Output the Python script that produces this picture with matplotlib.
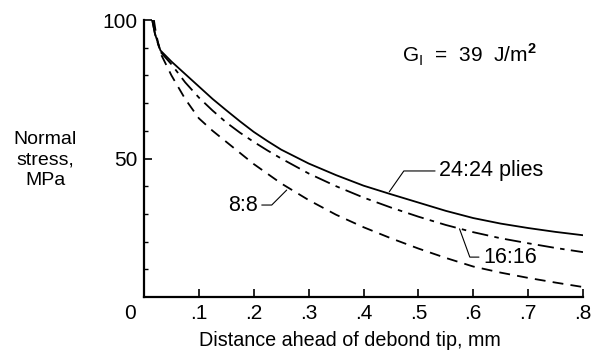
import matplotlib
matplotlib.use("Agg")
import matplotlib.pyplot as plt

plt.rcParams["font.family"] = ["Liberation Sans", "DejaVu Sans"]
plt.rcParams["mathtext.fontset"] = "custom"
plt.rcParams["mathtext.rm"] = "Liberation Sans"
plt.rcParams["mathtext.bf"] = "Liberation Sans:bold"

# distance ahead of debond tip (mm) and normal stress (MPa)
x_24 = [0.015, 0.02, 0.03, 0.05, 0.075, 0.1, 0.125, 0.15, 0.175, 0.2, 0.225, 0.25,
        0.3, 0.35, 0.4, 0.45, 0.5, 0.55, 0.6, 0.65, 0.7, 0.75, 0.8]
y_24 = [100, 95, 89, 85, 80.5, 76, 71.5, 67.4, 63.4, 59.6, 56.3, 53.2,
        48.2, 44, 40.2, 37.1, 34.1, 31.1, 28.5, 26.5, 24.9, 23.5, 22.3]

x_16 = [0.015, 0.02, 0.03, 0.05, 0.075, 0.1, 0.125, 0.15, 0.175, 0.2, 0.225, 0.25,
        0.3, 0.35, 0.4, 0.45, 0.5, 0.55, 0.6, 0.65, 0.7, 0.75, 0.8]
y_16 = [100, 95, 88.5, 84, 77.5, 72, 67.3, 63, 59.3, 56, 52.9, 50,
        44.6, 40, 35.9, 32.3, 29, 26, 23.4, 21.2, 19.4, 17.7, 16.2]

x_8 = [0.018, 0.022, 0.03, 0.04, 0.05, 0.075, 0.1, 0.125, 0.15, 0.175, 0.2, 0.225, 0.25,
       0.3, 0.35, 0.4, 0.45, 0.5, 0.55, 0.6, 0.65, 0.7, 0.75, 0.8]
y_8 = [100, 95, 88, 84, 80, 71.5, 64.5, 60, 56, 52, 48, 44.5, 41,
       35, 29.7, 25.2, 21.2, 17.5, 14.1, 11, 8.8, 6.9, 5.2, 3.6]

x_ticks = [0.1, 0.2, 0.3, 0.4, 0.5, 0.6, 0.7, 0.8]
x_ticklabels = [".1", ".2", ".3", ".4", ".5", ".6", ".7", ".8"]
y_ticks = [50, 100]
y_minor = [10, 20, 30, 40, 60, 70, 80, 90]

fig = plt.figure(figsize=(5.91, 3.54), dpi=100)
ax = fig.add_axes([144 / 591, 57 / 354, 439 / 591, 277 / 354])

lw = 1.3
ax.plot(x_24, y_24, color="black", lw=lw)
ax.plot(x_16, y_16, color="black", lw=lw, dashes=(9, 3.5, 2.5, 3.5))
ax.plot(x_8, y_8, color="black", lw=lw, dashes=(6, 4))

ax.set_xlim(0, 0.8)
ax.set_ylim(0, 100)
for side in ["top", "right"]:
    ax.spines[side].set_visible(False)
for side in ["left", "bottom"]:
    ax.spines[side].set_linewidth(1.6)

ax.set_xticks(x_ticks)
ax.set_xticklabels(x_ticklabels)
ax.set_yticks(y_ticks)
ax.set_yticks(y_minor, minor=True)
ax.tick_params(axis="both", which="major", direction="in", length=6, width=1.2,
               labelsize=15, pad=5)
ax.tick_params(axis="y", which="minor", direction="in", length=3, width=1)
ax.tick_params(axis="x", which="minor", bottom=False)

ax.annotate("0", xy=(0, 0), xytext=(-10, -5), textcoords="offset points",
            ha="center", va="top", fontsize=15, annotation_clip=False)

fig.text(350 / 591, 14 / 354, "Distance ahead of debond tip, mm",
         ha="center", va="center", fontsize=14.2)
fig.text(45 / 591, 194 / 354, "Normal\nstress,\nMPa", ha="center", va="center",
         fontsize=14, linespacing=1.3)

ax.text(0.47, 87.5, r"G$_\mathrm{I}$  =  39  J/m$^\mathbf{2}$", fontsize=15,
        ha="left", va="center")

# curve labels with leader lines
ax.annotate("24:24 plies", xy=(0.447, 38), xytext=(0.538, 45.5),
            ha="left", va="center", fontsize=15.5,
            arrowprops=dict(arrowstyle="-", color="black", lw=0.8,
                            connectionstyle="angle,angleA=0,angleB=55,rad=0",
                            shrinkA=1, shrinkB=0))
ax.annotate("16:16", xy=(0.575, 24.6), xytext=(0.618, 14.4),
            ha="left", va="center", fontsize=15.5,
            arrowprops=dict(arrowstyle="-", color="black", lw=0.8,
                            connectionstyle="angle,angleA=0,angleB=-70,rad=0",
                            shrinkA=1, shrinkB=0))
ax.annotate("8:8", xy=(0.26, 38.6), xytext=(0.207, 33.2),
            ha="right", va="center", fontsize=15.5,
            arrowprops=dict(arrowstyle="-", color="black", lw=0.8,
                            connectionstyle="angle,angleA=0,angleB=45,rad=0",
                            shrinkA=1, shrinkB=0))

fig.savefig("out.png", dpi=100)
